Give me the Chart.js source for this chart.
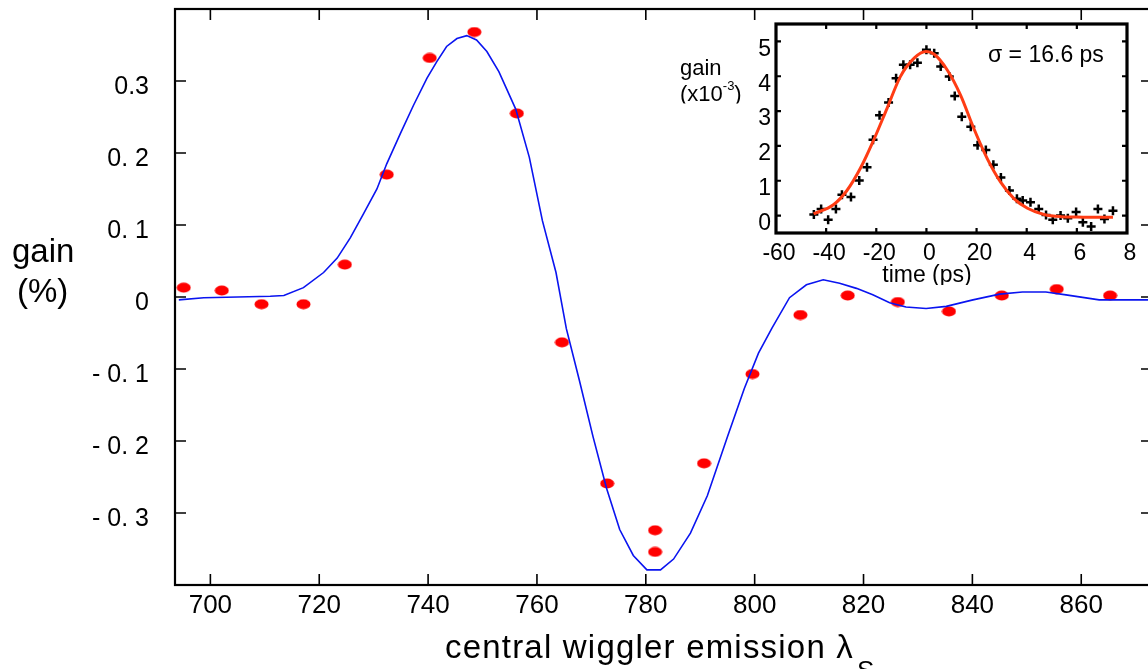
<!DOCTYPE html>
<html>
<head>
<meta charset="utf-8">
<script src="https://cdn.jsdelivr.net/npm/chart.js@4.4.1/dist/chart.umd.min.js"></script>
<style>
  html, body { margin: 0; padding: 0; background: #fff; overflow: hidden; }
  #wrap { position: relative; width: 1148px; height: 669px; overflow: hidden; }
  #main { position: absolute; left: 0; top: 0; }
  #inset { position: absolute; left: 660px; top: 15px; }
</style>
</head>
<body>
<div id="wrap">
  <canvas id="main" width="1160" height="669"></canvas>
  <canvas id="inset" width="488" height="270"></canvas>
</div>
<script>
// measured gain vs central wiggler wavelength
const wavelength = [695.1, 702.1, 709.4, 717.1, 724.7, 732.4, 740.3, 748.5, 756.3, 764.6, 772.9,
  781.7, 781.7, 790.7, 799.6, 808.4, 817.1, 826.3, 835.7, 845.4, 855.5, 865.3];
const gainMeasured = [0.013, 0.009, -0.010, -0.010, 0.045, 0.170, 0.332, 0.368, 0.255, -0.063, -0.259,
  -0.324, -0.354, -0.231, -0.107, -0.025, 0.002, -0.007, -0.020, 0.002, 0.011, 0.002];

// calculated gain curve
const fitWavelength = [694.2, 698.8, 705.0, 711.0, 713.5, 717.1, 720.8, 723.3, 725.7, 728.1, 730.6,
  732.4, 734.9, 737.3, 739.8, 741.6, 743.4, 745.3, 747.1, 748.9, 750.8, 753.0, 756.1, 758.6, 761.0,
  763.5, 765.4, 767.8, 770.3, 772.8, 775.2, 777.7, 780.2, 782.7, 785.1, 788.2, 791.3, 795.0, 798.1,
  800.7, 803.2, 806.4, 809.5, 812.6, 815.6, 818.7, 821.7, 824.8, 827.8, 831.5, 835.2, 840.1, 845.0,
  849.2, 853.5, 857.2, 863.3, 869.4, 873.0];
const fitGain = [-0.004, -0.001, 0.000, 0.001, 0.002, 0.013, 0.034, 0.054, 0.082, 0.115, 0.150,
  0.185, 0.227, 0.266, 0.304, 0.327, 0.348, 0.359, 0.363, 0.357, 0.341, 0.313, 0.261, 0.194, 0.106,
  0.034, -0.044, -0.116, -0.194, -0.266, -0.323, -0.359, -0.379, -0.379, -0.364, -0.328, -0.276, -0.194, -0.127,
  -0.078, -0.043, -0.001, 0.017, 0.024, 0.019, 0.012, 0.003, -0.008, -0.014, -0.016, -0.013, -0.004, 0.004,
  0.007, 0.007, 0.003, -0.004, -0.004, -0.004];

const wavelengthTicks = [700, 720, 740, 760, 780, 800, 820, 840, 860];
const gainTicks = [-0.3, -0.2, -0.1, 0, 0.1, 0.2, 0.3];
const gainTickLabels = ['- 0. 3', '- 0. 2', '- 0. 1', '0', '0. 1', '0. 2', '0.3'];

// inset: gain vs delay
const delay = [-44.9, -42.0, -39.2, -36.1, -33.7, -30.1, -26.8, -23.7, -21.3, -18.7, -15.1, -12.1, -9.2,
  -6.5, -3.6, 0.0, 3.1, 5.7, 9.1, 11.3, 14.1, 17.7, 20.4, 23.7, 26.7, 29.7, 33.1, 36.1, 38.4, 41.5,
  44.8, 47.7, 50.4, 53.5, 56.4, 59.7, 62.4, 65.7, 68.4, 71.0, 74.4];
const delayGain = [0.03, 0.19, -0.12, 0.19, 0.60, 0.53, 1.01, 1.39, 2.18, 2.88, 3.25, 3.94, 4.33,
  4.33, 4.39, 4.76, 4.66, 4.28, 3.99, 3.43, 2.84, 2.55, 2.02, 1.88, 1.46, 1.09, 0.72, 0.48, 0.43, 0.38,
  0.19, 0.02, -0.12, 0.00, -0.08, 0.10, -0.19, -0.31, 0.19, -0.10, 0.14];
const fitDelay = [-45, -37.1, -31.7, -26.4, -21.1, -15.7, -10.4, -4.9, -0.3, 3.1, 8.3, 13.6, 18.9,
  24.3, 29.6, 35.0, 40.3, 46.9, 53.6, 60.0, 67.0, 74.4];
const fitDelayGain = [0.05, 0.31, 0.72, 1.35, 2.16, 3.08, 3.99, 4.52, 4.71, 4.63, 4.18, 3.46, 2.50,
  1.63, 0.96, 0.48, 0.21, 0.03, -0.03, -0.04, -0.05, -0.05];

const delayTicks = [-60, -40, -20, 0, 20, 40, 60, 80];
const delayTickLabels = ['-60', '-40', '-20', '0', '20', '4', '6', '8'];
const delayGainTicks = [0, 1, 2, 3, 4, 5];

Chart.defaults.font.family = "'Liberation Sans', Arial, sans-serif";
Chart.defaults.color = '#000';

function toPoints(xs, ys) {
  return xs.map((x, i) => ({ x: x, y: ys[i] }));
}

// fixed axis box, no extra room reserved for label overhang
function fixSize(prop, size) {
  return s => {
    s[prop] = size;
    s.paddingTop = 0;
    s.paddingBottom = 0;
    s.paddingLeft = 0;
    s.paddingRight = 0;
  };
}

// red elliptical marker
const dot = document.createElement('canvas');
dot.width = 15;
dot.height = 11;
const dctx = dot.getContext('2d');
dctx.fillStyle = '#ff0000';
dctx.beginPath();
dctx.ellipse(7.5, 5.5, 7, 5, 0, 0, Math.PI * 2);
dctx.fill();

// box around the plot with inward ticks on every side
function drawFrame(chart, cfg) {
  const ctx = chart.ctx;
  const a = chart.chartArea;
  const x = chart.scales.x;
  const y = chart.scales.y;
  ctx.save();
  ctx.strokeStyle = '#000';
  ctx.lineWidth = cfg.tickWidth;
  ctx.beginPath();
  cfg.yTicks.forEach(v => {
    const py = y.getPixelForValue(v);
    ctx.moveTo(a.left, py); ctx.lineTo(a.left + cfg.tick, py);
    ctx.moveTo(a.right, py); ctx.lineTo(a.right - cfg.tick, py);
  });
  cfg.xTicks.forEach(v => {
    const px = x.getPixelForValue(v);
    ctx.moveTo(px, a.top); ctx.lineTo(px, a.top + cfg.tick);
    ctx.moveTo(px, a.bottom); ctx.lineTo(px, a.bottom - cfg.tick);
  });
  ctx.stroke();
  ctx.lineWidth = cfg.border;
  ctx.strokeRect(a.left, a.top, a.right - a.left, a.bottom - a.top);
  ctx.restore();
}

const mainFrame = {
  id: 'mainFrame',
  afterDraw(chart) {
    drawFrame(chart, { xTicks: wavelengthTicks, yTicks: gainTicks, tick: 11, tickWidth: 1.6, border: 2.2 });
    const ctx = chart.ctx;
    ctx.save();
    ctx.fillStyle = '#000';
    ctx.textAlign = 'left';
    ctx.textBaseline = 'alphabetic';
    ctx.font = "33px 'Liberation Sans', Arial, sans-serif";
    ctx.fillText('gain', 12, 262);
    ctx.fillText('(%)', 17, 302);
    ctx.letterSpacing = '1.2px';
    const title = 'central wiggler emission \u03bb';
    ctx.fillText(title, 445, 658);
    const w = ctx.measureText(title).width;
    ctx.font = "26px 'Liberation Sans', Arial, sans-serif";
    ctx.fillText('S', 445 + w + 3, 679);
    ctx.restore();
  }
};

const insetFrame = {
  id: 'insetFrame',
  beforeDatasetsDraw(chart) {
    const a = chart.chartArea;
    chart.ctx.save();
    chart.ctx.fillStyle = '#fff';
    chart.ctx.fillRect(a.left, a.top, a.right - a.left, a.bottom - a.top);
    chart.ctx.restore();
  },
  afterDraw(chart) {
    drawFrame(chart, { xTicks: delayTicks.slice(1, -1), yTicks: delayGainTicks, tick: 5, tickWidth: 2.2, border: 3.2 });
    const ctx = chart.ctx;
    ctx.save();
    ctx.fillStyle = '#000';
    ctx.textBaseline = 'alphabetic';
    ctx.font = "23px 'Liberation Sans', Arial, sans-serif";
    ctx.fillText('\u03c3 = 16.6 ps', 328, 47);
    ctx.textAlign = 'center';
    ctx.fillText('time (ps)', 267, 267);
    ctx.textAlign = 'left';
    ctx.font = "22px 'Liberation Sans', Arial, sans-serif";
    ctx.fillText('gain', 20, 60);
    ctx.beginPath();
    ctx.rect(0, 0, 120, 88.5);
    ctx.clip();
    ctx.fillText('(x10', 20, 86);
    let px = 20 + ctx.measureText('(x10').width;
    ctx.font = "13px 'Liberation Sans', Arial, sans-serif";
    ctx.fillText('-3', px, 75);
    px += ctx.measureText('-3').width;
    ctx.font = "22px 'Liberation Sans', Arial, sans-serif";
    ctx.fillText(')', px, 86);
    ctx.restore();
  }
};

new Chart(document.getElementById('main'), {
  type: 'scatter',
  data: {
    datasets: [
      {
        label: 'calculated',
        data: toPoints(fitWavelength, fitGain),
        showLine: true,
        borderColor: '#0a14f0',
        borderWidth: 1.6,
        pointRadius: 0,
        tension: 0,
        order: 0
      },
      {
        label: 'measured',
        data: toPoints(wavelength, gainMeasured),
        pointStyle: dot,
        pointRadius: 7,
        order: 1
      }
    ]
  },
  options: {
    responsive: false,
    animation: false,
    layout: { padding: { top: 9, right: 8, left: 0, bottom: 0 } },
    plugins: { legend: { display: false }, tooltip: { enabled: false } },
    scales: {
      x: {
        type: 'linear',
        min: 693.5,
        max: 873,
        grid: { display: false, drawTicks: false },
        border: { display: false },
        afterBuildTicks: s => { s.ticks = wavelengthTicks.map(v => ({ value: v })); },
        afterFit: fixSize('height', 84),
        ticks: { autoSkip: false, maxRotation: 0, padding: 5, font: { size: 26 } }
      },
      y: {
        min: -0.4,
        max: 0.4,
        grid: { display: false, drawTicks: false },
        border: { display: false },
        afterBuildTicks: s => { s.ticks = gainTicks.map(v => ({ value: v })); },
        afterFit: fixSize('width', 175),
        ticks: { padding: 26, labelOffset: 6, font: { size: 25 }, callback: (v, i) => gainTickLabels[i] }
      }
    }
  },
  plugins: [mainFrame]
});

new Chart(document.getElementById('inset'), {
  type: 'scatter',
  data: {
    datasets: [
      {
        label: 'fit',
        data: toPoints(fitDelay, fitDelayGain),
        showLine: true,
        borderColor: '#ff3c14',
        borderWidth: 3,
        pointRadius: 0,
        cubicInterpolationMode: 'monotone',
        order: 0
      },
      {
        label: 'gain',
        data: toPoints(delay, delayGain),
        pointStyle: 'cross',
        pointRadius: 4.5,
        borderColor: '#000',
        borderWidth: 2.5,
        order: 1
      }
    ]
  },
  options: {
    responsive: false,
    animation: false,
    layout: { padding: { top: 9, right: 21, left: 0, bottom: 0 } },
    plugins: { legend: { display: false }, tooltip: { enabled: false } },
    scales: {
      x: {
        type: 'linear',
        min: -60,
        max: 80,
        grid: { display: false, drawTicks: false },
        border: { display: false },
        afterBuildTicks: s => { s.ticks = delayTicks.map(v => ({ value: v })); },
        afterFit: fixSize('height', 52),
        ticks: { autoSkip: false, maxRotation: 0, padding: 7, labelOffset: 3, font: { size: 23 },
          callback: (v, i) => delayTickLabels[i] }
      },
      y: {
        min: -0.5,
        max: 5.5,
        grid: { display: false, drawTicks: false },
        border: { display: false },
        afterBuildTicks: s => { s.ticks = delayGainTicks.map(v => ({ value: v })); },
        afterFit: fixSize('width', 116),
        ticks: { padding: 5, labelOffset: 8, font: { size: 23 } }
      }
    }
  },
  plugins: [insetFrame]
});
</script>
</body>
</html>
